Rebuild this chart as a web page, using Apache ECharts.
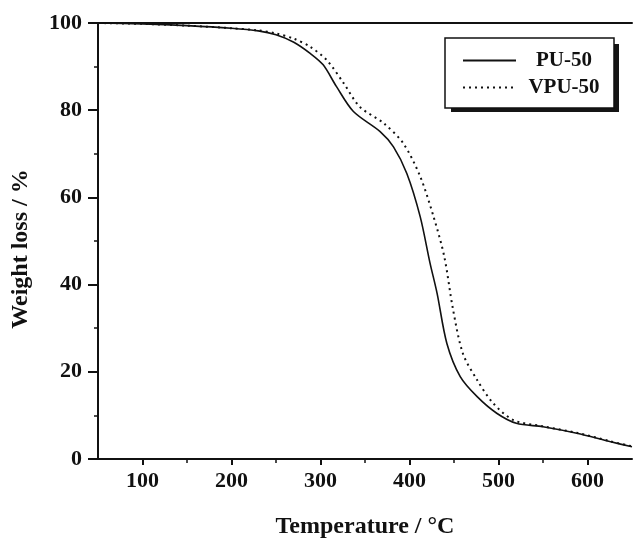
<!DOCTYPE html>
<html>
<head>
<meta charset="utf-8">
<script src="https://cdn.jsdelivr.net/npm/echarts@6/dist/echarts.min.js"></script>
<style>html,body{margin:0;padding:0;background:#fff;}#c{width:633px;height:538px;}</style>
</head>
<body>
<div id="c"></div>
<script>
const puTemps  = [50, 100, 150, 200, 230, 250, 270, 288, 303, 318, 337, 367, 382, 397, 412, 423, 431, 442, 457, 476, 498, 520, 550, 588, 625, 650];
const puValues = [100, 99.8, 99.4, 98.8, 98.2, 97.3, 95.6, 93.1, 90.4, 85.4, 79.7, 75.1, 71.6, 65.5, 55.6, 45.0, 38.0, 26.5, 18.9, 14.3, 10.5, 8.2, 7.4, 5.9, 4.0, 2.8];
const vpuTemps  = [50, 100, 150, 200, 230, 250, 270, 288, 307, 326, 344, 371, 393, 412, 427, 439, 449, 460, 476, 494, 517, 550, 588, 625, 650];
const vpuValues = [100, 99.8, 99.4, 98.8, 98.3, 97.6, 96.4, 94.6, 91.5, 86.2, 80.8, 77.0, 72.4, 64.8, 55.6, 46.5, 34.2, 24.2, 18.1, 12.8, 8.9, 7.5, 6.0, 4.1, 2.9];
const xMajor = [100, 200, 300, 400, 500, 600];
const xMinor = [150, 250, 350, 450, 550];
const seriesNames = ['PU-50', 'VPU-50'];

const font = 'Liberation Serif';
const chart = echarts.init(document.getElementById('c'), null, {renderer: 'canvas'});
chart.setOption({
  animation: false,
  backgroundColor: '#fff',
  grid: {left: 98, right: 1, top: 23, bottom: 79, outerBoundsMode: 'none', containLabel: false},
  graphic: [{
    type: 'rect', z: 1, left: 451, top: 44,
    shape: {width: 168, height: 68},
    style: {fill: '#151515'}
  }],
  legend: {
    orient: 'vertical', left: 445, top: 38, z: 5,
    padding: [12, 7, 10, 17], itemGap: 6,
    itemWidth: 53, itemHeight: 20,
    backgroundColor: '#fff', borderColor: '#111', borderWidth: 1.5,
    itemStyle: {opacity: 0},
    formatter: function (n) { return '{a|' + n + '}'; },
    textStyle: {
      fontFamily: font, fontWeight: 'bold', fontSize: 21, color: '#111',
      rich: {a: {fontFamily: font, fontWeight: 'bold', fontSize: 21, color: '#111', width: 86, align: 'center', lineHeight: 20}}
    },
    data: seriesNames
  },
  xAxis: [{
    type: 'value', min: 50, max: 650, position: 'bottom',
    axisLine: {show: true, lineStyle: {color: '#111', width: 2}},
    axisTick: {show: true, customValues: xMajor, length: 6, lineStyle: {color: '#111', width: 2}},
    axisLabel: {customValues: xMajor, fontFamily: font, fontWeight: 'bold', fontSize: 22, color: '#111', margin: 11},
    splitLine: {show: false},
    name: 'Temperature / °C', nameLocation: 'middle', nameGap: 56,
    nameTextStyle: {fontFamily: font, fontWeight: 'bold', fontSize: 24, color: '#111'}
  }, {
    type: 'value', min: 50, max: 650, position: 'bottom',
    axisLine: {show: false},
    axisTick: {show: true, customValues: xMinor, length: 4, lineStyle: {color: '#111', width: 1.5}},
    axisLabel: {show: false}, splitLine: {show: false}
  }, {
    type: 'value', min: 50, max: 650, position: 'top',
    axisLine: {show: true, lineStyle: {color: '#111', width: 2}},
    axisTick: {show: false}, axisLabel: {show: false}, splitLine: {show: false}
  }],
  yAxis: {
    type: 'value', min: 0, max: 100, interval: 20,
    axisLine: {show: true, lineStyle: {color: '#111', width: 2}},
    axisTick: {show: true, length: 10, lineStyle: {color: '#111', width: 2}},
    minorTick: {show: true, splitNumber: 2, length: 4, lineStyle: {color: '#111', width: 1.5}},
    axisLabel: {fontFamily: font, fontWeight: 'bold', fontSize: 22, color: '#111', margin: 16},
    splitLine: {show: false},
    name: 'Weight loss / %', nameLocation: 'middle', nameGap: 65, nameRotate: 90,
    nameTextStyle: {fontFamily: font, fontWeight: 'bold', fontSize: 24, color: '#111', padding: [0, 16, 0, 0]}
  },
  series: [{
    name: seriesNames[0], type: 'line', xAxisIndex: 0, smooth: 0.3, showSymbol: false, symbol: 'none',
    lineStyle: {color: '#111', width: 1.6, type: 'solid'}, itemStyle: {color: '#111'},
    data: puTemps.map((t, i) => [t, puValues[i]])
  }, {
    name: seriesNames[1], type: 'line', xAxisIndex: 0, smooth: 0.3, showSymbol: false, symbol: 'none',
    lineStyle: {color: '#111', width: 2, type: [2, 4]}, itemStyle: {color: '#111'},
    data: vpuTemps.map((t, i) => [t, vpuValues[i]])
  }]
});
</script>
</body>
</html>
